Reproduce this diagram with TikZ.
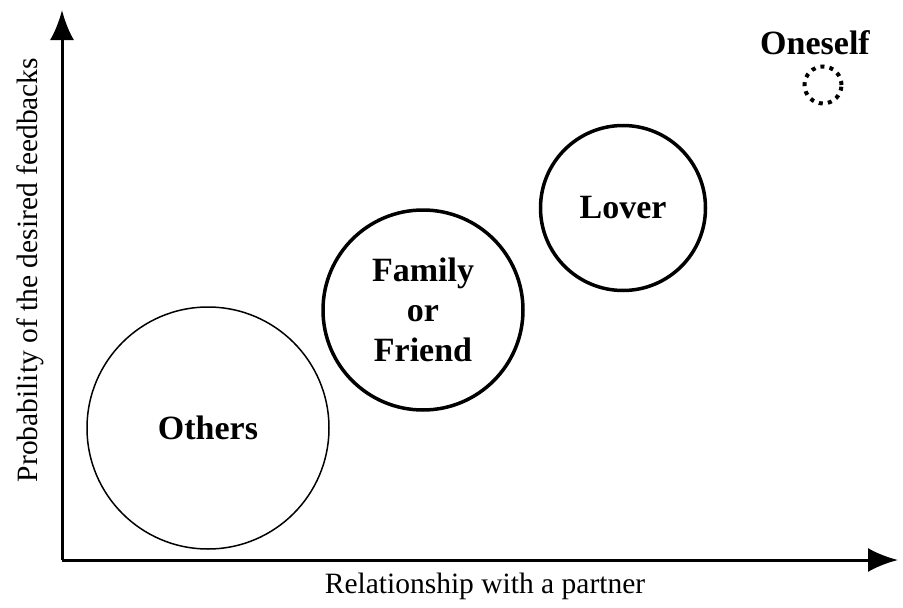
\documentclass[tikz,border=0pt]{standalone}
\usepackage{fontspec}
\setmainfont{Liberation Serif}
\usepackage{tikz}
\usetikzlibrary{arrows.meta, positioning}

\begin{document}
\begin{tikzpicture}[x=1pt, y=-1pt,
    axis/.style={line width=3pt, -{Latex[length=30pt, width=24pt]}},
    group/.style={circle, draw, inner sep=0pt, align=center,
      font=\fontsize{34}{40}\selectfont\bfseries},
    axislabel/.style={font=\fontsize{29.5}{34}\selectfont}]
  \useasboundingbox (0,0) rectangle (903,608);

  % axes
  \coordinate (origin) at (62,560);
  \coordinate (ytip) at (62,10);
  \coordinate (xtip) at (898,560);
  \draw[axis] (origin) -- (ytip);
  \draw[axis] (origin) -- (xtip);
  \node[axislabel] (xlabel) at (485,586) {Relationship with a partner};
  \node[axislabel, rotate=90] (ylabel) at (30,270) {Probability of the desired feedbacks};

  % partners
  \node[group, line width=1.5pt, minimum size=242pt] (others) at (208,428) {Others};
  \node[group, line width=3.5pt, minimum size=200pt] (family) at (423,310) {Family\\or\\Friend};
  \node[group, line width=3.5pt, minimum size=165pt] (lover) at (623,208) {Lover};
  \node[circle, draw, line width=4pt, dash pattern=on 4pt off 5.2pt,
    minimum size=37pt, inner sep=0pt] (oneself) at (823,85) {};
  \node[font=\fontsize{34}{40}\selectfont\bfseries] (oneselflabel) at (815,43) {Oneself};
\end{tikzpicture}
\end{document}
